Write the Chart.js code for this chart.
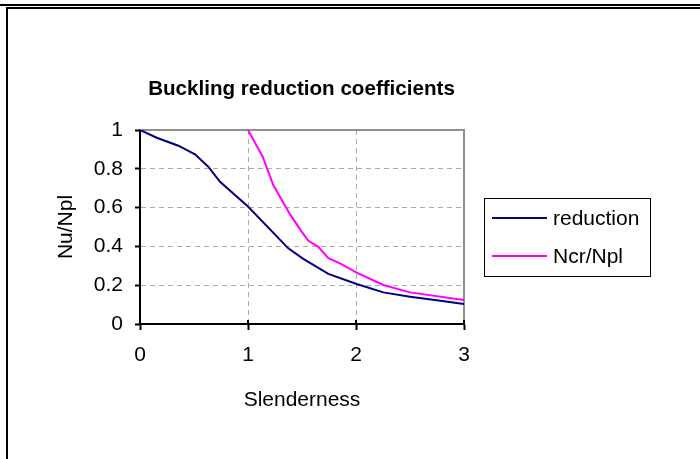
<!DOCTYPE html>
<html>
<head>
<meta charset="utf-8">
<script src="https://cdn.jsdelivr.net/npm/chart.js@4/dist/chart.umd.min.js"></script>
<style>
  html, body { margin: 0; padding: 0; background: #fff; overflow: hidden; }
  #wrap { position: relative; width: 700px; height: 459px; }
</style>
</head>
<body>
<div id="wrap"><canvas id="c" width="700" height="459"></canvas></div>
<script>
// Texts
const chartTitle = 'Buckling reduction coefficients';
const xTitle = 'Slenderness';
const yTitle = 'Nu/Npl';
const seriesNames = ['reduction', 'Ncr/Npl'];

// Reduction factor vs. relative slenderness
const reductionX = [0, 0.155, 0.355, 0.509, 0.632, 0.741, 1.0, 1.373, 1.512, 1.744, 2.006, 2.253, 2.5, 2.747, 3.0];
const reductionY = [1, 0.960, 0.919, 0.875, 0.811, 0.733, 0.606, 0.390, 0.336, 0.258, 0.206, 0.163, 0.141, 0.122, 0.103];

// Elastic critical load ratio
const ncrX = [1.0, 1.136, 1.234, 1.389, 1.497, 1.559, 1.651, 1.744, 1.852, 2.006, 2.253, 2.5, 3.0];
const ncrY = [1.0, 0.862, 0.716, 0.565, 0.476, 0.429, 0.398, 0.339, 0.313, 0.265, 0.201, 0.163, 0.124];

// Axis ranges / tick steps
const xRange = [0, 3];
const xStep = 1;
const yRange = [0, 1];
const yStep = 0.2;

const seriesColors = ['#000080', '#FF00FF'];
const FONT = '"Liberation Sans", Arial, sans-serif';

const toPoints = (xs, ys) => xs.map((x, i) => ({ x: x, y: ys[i] }));

// Page frame, plot border, crossing x tick marks, title and boxed legend
const decor = {
  id: 'decor',
  beforeDraw(chart) {
    const ctx = chart.ctx;
    ctx.save();
    ctx.fillStyle = '#fff';
    ctx.fillRect(0, 0, chart.width, chart.height);
    ctx.fillStyle = '#000';
    ctx.fillRect(0, 4, chart.width, 2);
    ctx.fillRect(6, 7, chart.width - 6, 2);
    ctx.fillRect(6, 7, 2, chart.height - 7);
    ctx.restore();
  },
  beforeDatasetsDraw(chart) {
    const { ctx, chartArea: a } = chart;
    ctx.save();
    ctx.strokeStyle = '#909090';
    ctx.lineWidth = 2;
    ctx.beginPath();
    ctx.moveTo(a.left, a.top);
    ctx.lineTo(a.right, a.top);
    ctx.lineTo(a.right, a.bottom);
    ctx.stroke();
    // inner half of the x tick marks
    const xs = chart.scales.x;
    ctx.strokeStyle = '#000';
    ctx.beginPath();
    xs.ticks.forEach((t) => {
      const px = Math.round(xs.getPixelForValue(t.value));
      ctx.moveTo(px, a.bottom);
      ctx.lineTo(px, a.bottom - 4);
    });
    ctx.stroke();
    ctx.restore();
  },
  afterDraw(chart) {
    const ctx = chart.ctx;
    ctx.save();
    // title
    ctx.fillStyle = '#000';
    ctx.font = 'bold 20.6px ' + FONT;
    ctx.textAlign = 'center';
    ctx.textBaseline = 'alphabetic';
    ctx.fillText(chartTitle, 301.5, 95);
    // legend
    ctx.strokeStyle = '#000';
    ctx.lineWidth = 1;
    ctx.strokeRect(484.5, 198.5, 166, 78);
    ctx.font = '21px ' + FONT;
    ctx.textAlign = 'left';
    const rows = [218, 256];
    chart.data.datasets.forEach((ds, i) => {
      ctx.strokeStyle = ds.borderColor;
      ctx.lineWidth = 2;
      ctx.beginPath();
      ctx.moveTo(492, rows[i]);
      ctx.lineTo(547, rows[i]);
      ctx.stroke();
      ctx.fillStyle = '#000';
      ctx.fillText(ds.label, 553, rows[i] + 7);
    });
    ctx.restore();
  }
};

const gridColor = (ctx, lo, hi) => {
  const v = ctx.tick && ctx.tick.value;
  return (v === lo || v === hi) ? 'rgba(0,0,0,0)' : '#acacac';
};

const fmt = (v) => String(Math.round(v * 10) / 10);

new Chart(document.getElementById('c'), {
  type: 'scatter',
  data: {
    datasets: [
      {
        label: seriesNames[0],
        data: toPoints(reductionX, reductionY),
        borderColor: seriesColors[0],
        backgroundColor: seriesColors[0],
        borderWidth: 2,
        showLine: true,
        pointRadius: 0,
        tension: 0
      },
      {
        label: seriesNames[1],
        data: toPoints(ncrX, ncrY),
        borderColor: seriesColors[1],
        backgroundColor: seriesColors[1],
        borderWidth: 2,
        showLine: true,
        pointRadius: 0,
        tension: 0
      }
    ]
  },
  options: {
    responsive: false,
    animation: false,
    devicePixelRatio: 1,
    layout: { padding: { left: 0, right: 236, top: 130, bottom: 0 } },
    plugins: {
      legend: { display: false },
      title: { display: false },
      tooltip: { enabled: false }
    },
    scales: {
      x: {
        type: 'linear',
        min: xRange[0],
        max: xRange[1],
        ticks: {
          stepSize: xStep,
          color: '#000',
          font: { family: FONT, size: 21 },
          padding: 13,
          maxRotation: 0,
          callback: fmt
        },
        grid: {
          color: (c) => gridColor(c, xRange[0], xRange[1]),
          lineWidth: 1,
          drawTicks: true,
          tickLength: 6,
          tickColor: '#000',
          tickWidth: 2
        },
        border: { display: true, color: '#000', width: 2, dash: [5, 4] },
        title: {
          display: true,
          text: xTitle,
          color: '#000',
          font: { family: FONT, size: 21 },
          padding: { top: 0, bottom: 46 }
        },
        afterFit: (s) => { s.height = 135; }
      },
      y: {
        type: 'linear',
        min: yRange[0],
        max: yRange[1],
        ticks: {
          stepSize: yStep,
          color: '#000',
          font: { family: FONT, size: 21 },
          padding: 12,
          callback: fmt
        },
        grid: {
          color: (c) => gridColor(c, yRange[0], yRange[1]),
          lineWidth: 1,
          drawTicks: true,
          tickLength: 5,
          tickColor: '#000',
          tickWidth: 2
        },
        border: { display: true, color: '#000', width: 2, dash: [5, 4] },
        title: {
          display: true,
          text: yTitle,
          color: '#000',
          font: { family: FONT, size: 21 },
          padding: { top: 54, bottom: 0 }
        },
        afterFit: (s) => { s.width = 140; }
      }
    }
  },
  plugins: [decor]
});
</script>
</body>
</html>
